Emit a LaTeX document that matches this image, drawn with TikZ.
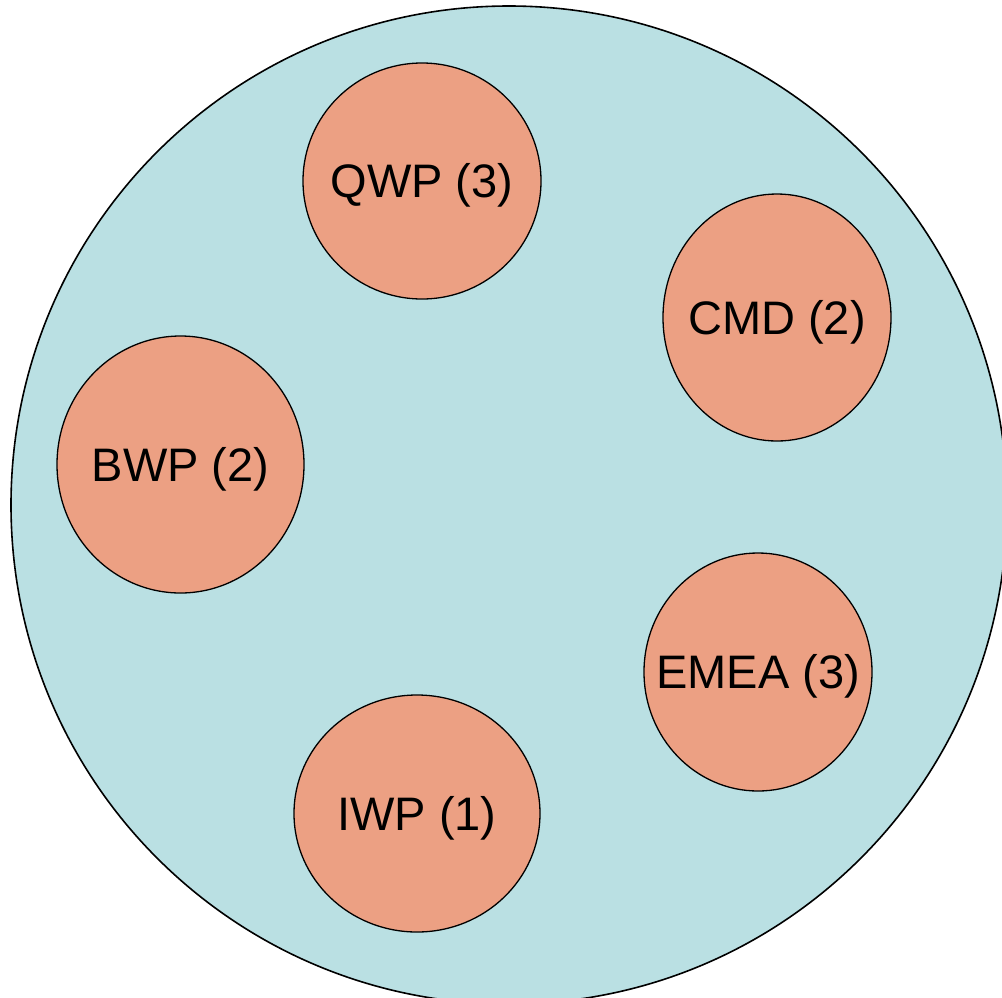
\documentclass[tikz,border=0pt]{standalone}
\usepackage{fontspec}
\setmainfont{Liberation Sans}
\usetikzlibrary{shapes.geometric}
\definecolor{bgblue}{RGB}{186,224,227}
\definecolor{salmon}{RGB}{236,160,131}
\begin{document}
\begin{tikzpicture}[x=1pt,y=-1pt,
  blob/.style={ellipse, draw=black, line width=1.3pt, fill=salmon, inner sep=0pt,
    font=\fontsize{47}{50}\selectfont, text height=33.6pt, text depth=0pt},
  outer/.style={ellipse, draw=black, line width=1.6pt, fill=bgblue, inner sep=0pt}]
\useasboundingbox (0,0) rectangle (1002,997);
\clip (0,0) rectangle (1002,997);
\node[outer, minimum width=996pt, minimum height=998pt] (area) at (509,505) {};
\node[blob, minimum width=238pt, minimum height=236pt] (qwp) at (422,181) {\makebox[0pt]{QWP (3)}};
\node[blob, minimum width=228pt, minimum height=247pt] (cmd) at (777,317.5) {\makebox[0pt]{CMD (2)}};
\node[blob, minimum width=247pt, minimum height=257pt] (bwp) at (180.5,464.5) {\makebox[0pt]{BWP (2)}};
\node[blob, minimum width=228pt, minimum height=238pt] (emea) at (758,672) {\makebox[0pt]{EMEA (3)}};
\node[blob, minimum width=246pt, minimum height=237pt] (iwp) at (417,813.5) {\makebox[0pt]{IWP (1)}};
\end{tikzpicture}
\end{document}
